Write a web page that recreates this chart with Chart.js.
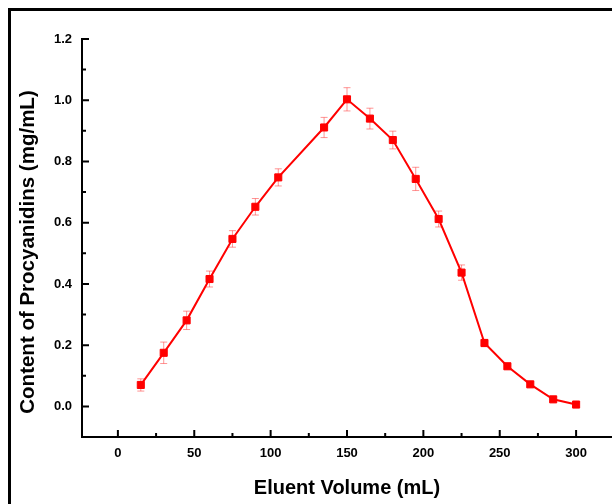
<!DOCTYPE html>
<html>
<head>
<meta charset="utf-8">
<script src="https://cdn.jsdelivr.net/npm/chart.js@4.4.1/dist/chart.umd.min.js"></script>
<style>
  html, body { margin: 0; padding: 0; background: #fff; overflow: hidden; }
  #wrap { position: relative; width: 612px; height: 504px; }
  #frame { position: absolute; left: 8px; top: 8px; right: -10px; bottom: -10px;
           border-left: 3px solid #000; border-top: 3px solid #000; pointer-events: none; }
</style>
</head>
<body>
<div id="wrap">
  <canvas id="chart" width="612" height="504"></canvas>
  <div id="frame"></div>
</div>
<script>
// eluent volume (mL) vs procyanidin content (mg/mL), +/- error
const volumes  = [15, 30, 45, 60, 75, 90, 105, 135, 150, 165, 180, 195, 210, 225, 240, 255, 270, 285, 300];
const contents = [0.070, 0.175, 0.281, 0.416, 0.547, 0.652, 0.748, 0.911, 1.003, 0.940, 0.870, 0.743, 0.612, 0.437, 0.207, 0.131, 0.072, 0.023, 0.006];
const errors   = [0.020, 0.035, 0.030, 0.026, 0.027, 0.027, 0.028, 0.033, 0.038, 0.034, 0.029, 0.038, 0.026, 0.025, 0.012, 0.010, 0.008, 0.008, 0.006];

const xMajorTicks = [0, 50, 100, 150, 200, 250, 300];
const yMajorTicks = [0, 0.2, 0.4, 0.6, 0.8, 1.0, 1.2];
const xMinorTicks = xMajorTicks.slice(1).map((v, i) => (v + xMajorTicks[i]) / 2);
const yMinorTicks = yMajorTicks.slice(1).map((v, i) => (v + yMajorTicks[i]) / 2);

const xTitle = 'Eluent Volume (mL)';
const yTitle = 'Content of Procyanidins (mg/mL)';

const fontFamily = '"Liberation Sans", Arial, sans-serif';

// error bars drawn under the line/markers
const errorBars = {
  id: 'errorBars',
  beforeDatasetsDraw(chart) {
    const { ctx, scales: { x, y } } = chart;
    ctx.save();
    ctx.strokeStyle = 'rgba(255, 60, 60, 0.55)';
    ctx.lineWidth = 1;
    volumes.forEach((v, i) => {
      const px = x.getPixelForValue(v);
      const top = y.getPixelForValue(contents[i] + errors[i]);
      const bot = y.getPixelForValue(contents[i] - errors[i]);
      ctx.beginPath();
      ctx.moveTo(px, top); ctx.lineTo(px, bot);
      ctx.moveTo(px - 3.5, top); ctx.lineTo(px + 3.5, top);
      ctx.moveTo(px - 3.5, bot); ctx.lineTo(px + 3.5, bot);
      ctx.stroke();
    });
    ctx.restore();
  }
};

// Origin-style axes: L shaped frame, ticks pointing inward, rotated y title
const originAxes = {
  id: 'originAxes',
  afterDraw(chart) {
    const { ctx, chartArea: a, scales: { x, y } } = chart;
    ctx.save();
    ctx.strokeStyle = '#000';
    ctx.lineWidth = 2;
    ctx.beginPath();
    ctx.moveTo(a.left, a.top - 1);
    ctx.lineTo(a.left, a.bottom);
    ctx.lineTo(a.right, a.bottom);
    ctx.stroke();

    ctx.beginPath();
    yMajorTicks.forEach(v => { const p = y.getPixelForValue(v); ctx.moveTo(a.left, p); ctx.lineTo(a.left + 7, p); });
    yMinorTicks.forEach(v => { const p = y.getPixelForValue(v); ctx.moveTo(a.left, p); ctx.lineTo(a.left + 4, p); });
    xMajorTicks.forEach(v => { const p = x.getPixelForValue(v); ctx.moveTo(p, a.bottom); ctx.lineTo(p, a.bottom - 7); });
    xMinorTicks.forEach(v => { const p = x.getPixelForValue(v); ctx.moveTo(p, a.bottom); ctx.lineTo(p, a.bottom - 4); });
    ctx.stroke();

    ctx.translate(28, 252);
    ctx.rotate(-Math.PI / 2);
    ctx.fillStyle = '#000';
    ctx.font = 'bold 20.5px ' + fontFamily;
    ctx.textAlign = 'center';
    ctx.textBaseline = 'middle';
    ctx.fillText(yTitle, 0, 0);
    ctx.restore();
  }
};

new Chart(document.getElementById('chart'), {
  type: 'line',
  data: {
    datasets: [{
      data: volumes.map((v, i) => ({ x: v, y: contents[i] })),
      borderColor: '#ff0000',
      backgroundColor: '#ff0000',
      borderWidth: 2,
      pointStyle: 'rect',
      pointRadius: 5,
      pointBorderWidth: 1,
      tension: 0
    }]
  },
  options: {
    responsive: false,
    animation: false,
    layout: { autoPadding: false, padding: { left: 0, right: 0, top: 39, bottom: 0 } },
    plugins: { legend: { display: false }, tooltip: { enabled: false } },
    scales: {
      x: {
        type: 'linear',
        min: -23.5,
        max: 323.5,
        grid: { display: false, drawTicks: false },
        border: { display: false },
        afterBuildTicks: s => { s.ticks = xMajorTicks.map(value => ({ value })); },
        afterFit: s => { s.height = 67; s.paddingLeft = 0; s.paddingRight = 0; },
        ticks: { padding: 9, color: '#000', font: { family: fontFamily, size: 13, weight: 'bold' } },
        title: {
          display: true, text: xTitle, color: '#000',
          font: { family: fontFamily, size: 20, weight: 'bold' },
          padding: { top: 0, bottom: 4 }
        }
      },
      y: {
        type: 'linear',
        min: -0.1,
        max: 1.2,
        grid: { display: false, drawTicks: false },
        border: { display: false },
        afterBuildTicks: s => { s.ticks = yMajorTicks.map(value => ({ value })); },
        afterFit: s => { s.width = 82; },
        ticks: {
          padding: 10, color: '#000',
          font: { family: fontFamily, size: 13, weight: 'bold' },
          callback: v => v.toFixed(1)
        }
      }
    }
  },
  plugins: [errorBars, originAxes]
});
</script>
</body>
</html>
